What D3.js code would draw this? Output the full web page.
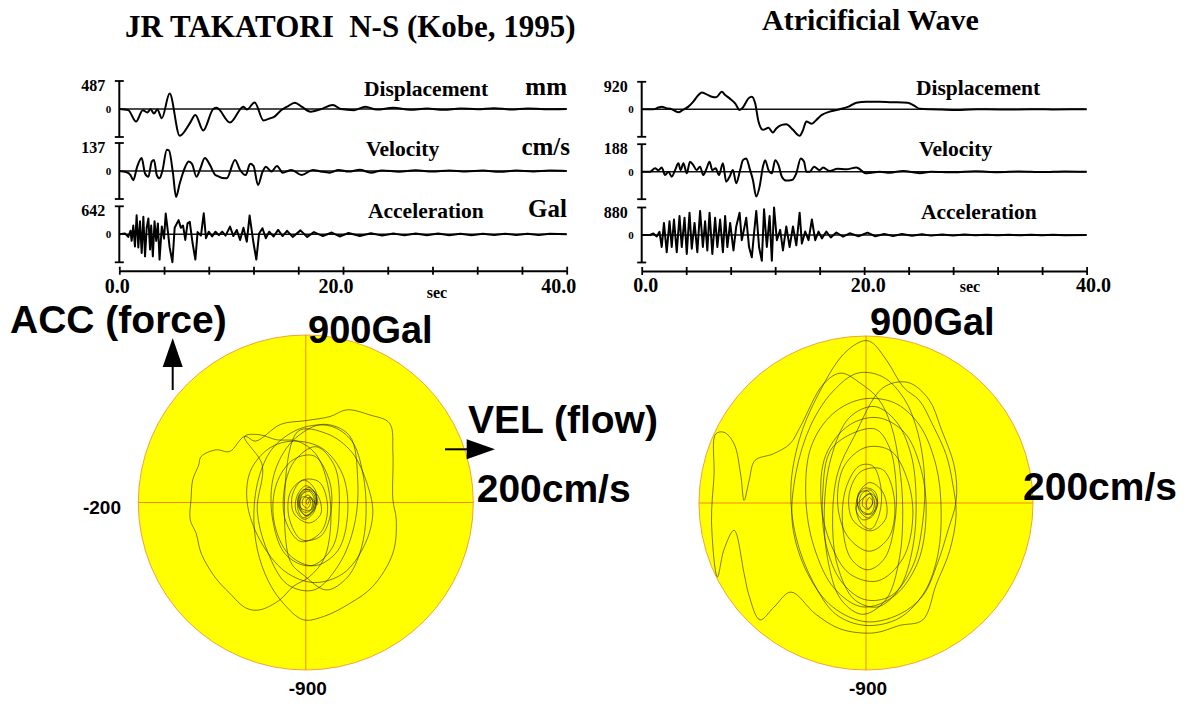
<!DOCTYPE html>
<html>
<head>
  <meta charset="utf-8">
  <title>JR Takatori vs Artificial Wave</title>
  <style>
    html, body { margin: 0; padding: 0; background: #fff; }
    svg { display: block; }
    .serif { font-family: "Liberation Serif", "Times New Roman", serif; font-weight: bold; }
    .sans { font-family: "Liberation Sans", Arial, sans-serif; font-weight: bold; }
  </style>
  <script src="https://d3js.org/d3.v7.min.js"></script>
</head>
<body>
<script>
  // ---- data: [time s, value] turning points ----
  var rowNames = ["Displacement", "Velocity", "Acceleration"];
  var units = ["mm", "cm/s", "Gal"];
  var kobePeaks = [487, 137, 642];
  var artPeaks = [920, 188, 880];
  var timeLabels = ["0.0", "20.0", "40.0"];
  var timeLabelAt = [0, 20, 40];

  var kobeDisp = [[0,0],[0.8,-20],[1.5,-218],[2.1,-20],[2.5,-60],[2.8,-5],[3.1,-80],[3.4,-10],[3.8,-160],[4.5,269],[5.4,-464],[6.3,-250],[6.8,-103],[7.5,-372],[8.4,0],[8.7,20],[9.9,-235],[11.1,40],[11.4,-10],[12.1,115],[12.9,-200],[13.5,-160],[13.8,-143],[14.5,-17],[15.0,40],[15.7,109],[16.3,40],[17.1,-46],[18,-5],[19.1,69],[19.8,0],[21,-20],[22,40],[23,-10],[24.5,20],[26,-15],[27.5,10],[29,-15],[30.5,10],[32,-5],[33.5,15],[35,-10],[36.5,10],[38,-5],[40,0]];
  var kobeVel = [[0,0],[0.6,-5],[1.0,-20],[1.25,-45],[1.6,21],[2.0,63],[2.3,-12],[2.6,-28],[2.9,46],[3.1,54],[3.35,-20],[3.6,-36],[3.85,0],[4.25,104],[4.45,100],[4.8,-12],[5.07,-127],[5.4,-61],[5.9,21],[6.2,46],[6.5,35],[6.9,-28],[7.2,5],[7.65,63],[8.1,30],[8.6,-20],[9.6,-36],[10.35,54],[10.8,5],[11.3,-20],[11.7,35],[12.0,25],[12.4,-69],[12.8,-5],[13.1,21],[13.6,-3],[14.1,25],[14.6,-8],[15.4,5],[16.3,-20],[17.3,5],[18.0,-2],[18.8,-8],[19.6,5],[20.5,-3],[21.5,6],[22.5,-8],[23.5,3],[25,-4],[26.5,4],[28,-3],[29.5,3],[31,-2],[32.5,2],[34,-4],[35.5,2],[37,-2],[38.5,2],[40,0]];
  var kobeAcc = [[0,0],[0.5,20],[0.8,-60],[1.0,80],[1.1,-150],[1.25,200],[1.4,-280],[1.55,438],[1.7,-300],[1.85,300],[2.0,-430],[2.15,400],[2.3,-506],[2.45,150],[2.6,362],[2.75,-350],[2.85,200],[3.0,-506],[3.15,300],[3.3,-150],[3.45,250],[3.6,-580],[3.8,180],[4.0,-100],[4.15,475],[4.35,50],[4.5,-300],[4.75,-640],[4.95,150],[5.3,325],[5.5,150],[5.7,200],[5.9,-130],[6.1,250],[6.3,287],[6.55,-200],[6.8,-580],[7.0,50],[7.3,-30],[7.55,480],[7.75,-90],[8.0,60],[8.3,-50],[8.6,60],[8.9,-20],[9.2,60],[9.5,-30],[9.9,175],[10.2,-40],[10.5,100],[10.8,-130],[11.1,150],[11.4,-170],[11.65,430],[12.0,-200],[12.25,-580],[12.5,20],[12.8,140],[13.1,-90],[13.4,60],[13.8,-50],[14.2,100],[14.6,-40],[15.0,80],[15.5,-60],[16.2,90],[16.8,-60],[17.4,50],[18.2,-40],[19.0,40],[19.7,-50],[20.5,30],[21.5,-40],[22.5,25],[23.5,-30],[24.5,20],[25.5,-25],[26.5,20],[27.5,-20],[28.5,20],[29.5,-20],[30.5,15],[31.5,-20],[32.5,15],[33.5,-15],[34.5,15],[35.5,-15],[36.5,15],[37.5,-15],[38.5,10],[40,0]];

  var artDisp = [[0,0],[1.05,0],[1.5,60],[1.8,89],[2.2,40],[2.6,20],[3.3,-100],[3.7,-20],[4.2,89],[4.64,255],[5.1,476],[5.4,565],[5.84,500],[6.3,421],[6.7,399],[7.2,587],[7.5,480],[7.9,366],[8.4,200],[8.8,-22],[9.1,60],[9.6,366],[9.9,421],[10.2,200],[10.5,-410],[10.9,-687],[11.4,-620],[11.8,-776],[12.1,-640],[12.6,-520],[13.0,-500],[13.6,-687],[14.2,-886],[14.5,-700],[14.8,-410],[15.3,-480],[15.7,-354],[16.2,-188],[16.9,-78],[17.8,0],[18.6,89],[19.3,222],[20.2,255],[21.4,255],[22.3,240],[23.9,220],[24.5,120],[25,20],[26,0],[27,-10],[28.4,-20],[29.5,-5],[31,0],[33,-5],[35,0],[37,-3],[40,0]];
  var artVel = [[0,0],[0.75,0],[1.2,23],[1.5,10],[1.8,29],[2.1,-23],[2.4,0],[2.7,-34],[3.0,11],[3.3,57],[3.5,11],[3.75,57],[4.05,-11],[4.34,68],[4.64,45],[4.94,11],[5.24,34],[5.54,-23],[5.84,23],[6.1,68],[6.35,11],[6.65,23],[6.95,-23],[7.3,57],[7.6,-68],[7.9,-34],[8.2,11],[8.5,-79],[8.85,11],[9.1,79],[9.4,91],[9.7,23],[10.0,-57],[10.3,-170],[10.6,-102],[10.9,34],[11.1,79],[11.4,11],[11.7,-11],[12.0,79],[12.3,45],[12.6,-34],[13.0,-61],[13.5,-57],[13.9,-11],[14.3,91],[14.6,68],[14.8,0],[15.1,0],[15.5,34],[16.0,11],[16.3,29],[16.9,4],[17.6,20],[18.4,16],[19.3,29],[20.2,-11],[21.4,0],[22.3,-7],[23.5,5],[25,-10],[26,0],[28,-4],[30,3],[32,-3],[34,2],[36,-2],[38,2],[40,0]];
  var artAcc = [[0,0],[0.75,0],[1.05,50],[1.35,-50],[1.6,100],[1.8,-385],[2.0,385],[2.25,-550],[2.5,440],[2.7,-385],[2.9,495],[3.15,-550],[3.4,605],[3.6,-385],[3.85,550],[4.05,-605],[4.3,715],[4.5,-440],[4.75,385],[5.0,-550],[5.25,770],[5.5,-385],[5.7,440],[5.9,-495],[6.1,715],[6.35,-605],[6.6,550],[6.8,-385],[7.05,495],[7.3,-550],[7.5,605],[7.7,-385],[7.95,385],[8.25,-495],[8.5,275],[8.8,715],[9.0,-165],[9.25,275],[9.4,550],[9.65,-385],[9.9,-715],[10.1,55],[10.3,770],[10.55,-385],[10.8,-825],[11.0,825],[11.25,-385],[11.5,605],[11.7,-825],[11.9,880],[12.15,-165],[12.45,165],[12.7,-495],[13.0,275],[13.3,-385],[13.6,275],[13.9,-330],[14.2,715],[14.4,-275],[14.7,110],[15.0,-165],[15.3,495],[15.6,-165],[15.9,110],[16.2,-110],[16.6,110],[17.0,-80],[17.5,80],[18.1,-55],[18.7,55],[19.5,-40],[20.3,75],[21.0,-40],[21.8,30],[22.6,-30],[23.4,30],[24.3,-25],[25.2,25],[26,-20],[27,15],[28,-15],[29,15],[30,-10],[31,10],[32,-10],[33,10],[34,-8],[35,8],[36,-8],[37,8],[38,-5],[40,0]];

  // orbit: [velocity cm/s, acceleration Gal]
  var kobeOrbit = [[0,0],[3,25],[6,5],[2,-30],[-4,-10],[-3,20],[3,40],[8,10],[5,-45],[-3,-50],[-7,0],[-4,45],[4,60],[10,20],[8,-40],[0,-70],[-8,-30],[-9,30],[-2,70],[8,55],[12,0],[6,-60],[-4,-80],[-10,-20],[-6,50],[4,80],[12,40],[10,-50],[-2,-90],[-12,-40],[-10,40],[0,90],[10,60],[14,-10],
    [4,30],[10,10],[6,-40],[-6,-30],[-8,20],[2,70],[14,40],[18,-60],[4,-110],[-14,-60],[-16,40],[-4,120],[16,110],[26,-20],[18,-160],[-6,-210],[-24,-100],[-26,60],
    [-14,220],[12,300],[34,200],[40,-20],[32,-240],[6,-340],[-24,-280],[-40,-80],[-38,150],
    [-16,330],[20,420],[52,360],[62,120],[58,-120],[40,-330],[10,-470],[-22,-440],[-46,-260],[-58,-40],[-52,200],
    [-73,355],[-55,364],[-35,337],[-10,330],[12,260],[26,100],[30,-100],[22,-300],[4,-400],[-15,-451],[-31,-523],[-55,-577],[-71,-568],[-91,-487],[-109,-398],[-125,-272],[-131,-165],[-138,-93],[-137,20],[-135,122],[-128,200],[-125,247],[-107,283],[-91,274],[-73,355],
    [-60,330],[-30,420],[0,440],[29,462],[49,498],[76,471],[100,426],[104,265],[104,14],[108,-93],[104,-272],[80,-451],[53,-541],[21,-613],[-3,-630],[-27,-541],[-45,-420],[-58,-250],[-62,-50],[-55,150],[-38,300],
    [-5,400],[30,410],[55,330],[68,160],[72,-60],[66,-250],[50,-400],[25,-470],[0,-400],[-20,-300],
    [-10,380],[25,370],[55,270],[74,90],[80,-60],[70,-230],[45,-380],[10,-430],[-25,-370],[-55,-200],[-70,0],[-66,170],[-44,290],
    [-15,330],[20,290],[44,150],[50,-60],[38,-260],[10,-340],[-20,-280],[-38,-100],[-35,100],[-15,230],[10,250],[28,120],[30,-50],[18,-180],[-5,-200],[-20,-80],[-18,60],[-2,120],[12,60],[10,-40],[0,-70],[-8,-20],[-4,30],[4,20],[2,-10],[0,0]];
  var artOrbit = [[0,0],[4,30],[8,5],[3,-35],[-4,-15],[-3,25],[4,50],[10,15],[7,-50],[-2,-60],[-8,-5],[-5,50],[5,70],[12,25],[10,-45],[2,-80],[-8,-40],[-10,30],[-2,80],[10,65],[14,5],[8,-70],[-4,-90],[-12,-25],
    [6,50],[14,0],[6,-60],[-8,-30],[-10,40],[4,110],[20,60],[24,-80],[6,-150],[-16,-90],[-20,50],[-6,170],[20,180],[34,20],[28,-180],[4,-260],[-22,-180],[-34,0],[-26,200],
    [0,300],[30,280],[50,120],[56,-80],[44,-300],[14,-420],[-20,-380],[-44,-200],[-54,20],[-48,260],[-20,420],
    [14,460],[46,380],[66,180],[72,-60],[62,-320],[34,-500],[-4,-560],[-38,-460],[-62,-240],[-72,20],[-66,300],[-40,480],
    [-4,560],[34,540],[64,420],[84,200],[90,-40],[86,-280],[70,-480],[40,-620],[0,-660],[-36,-600],[-64,-420],[-84,-180],[-90,80],[-80,340],[-60,560],
    [-27,802],[-3,874],[7,865],[25,767],[45,623],[64,552],[80,420],[96,260],[104,100],[108,-60],[100,-260],[84,-440],[68,-630],[40,-660],[10,-700],[-30,-680],[-60,-600],[-90,-480],[-110,-560],[-127,-630],[-140,-500],[-146,-380],[-158,-147],[-170,-250],[-178,-398],[-185,-100],[-182,150],[-180,372],[-170,381],[-158,319],[-150,150],[-146,14],[-140,120],[-133,229],[-111,265],[-91,319],[-79,408],[-51,641],[-30,700],[-5,640],[15,560],[30,420],[40,200],
    [44,-40],[40,-300],[24,-520],[-4,-600],[-30,-520],[-46,-300],[-50,-40],[-42,240],[-20,460],[10,520],[36,440],[54,260],[60,20],[56,-240],[40,-460],[14,-560],[-14,-520],[-34,-340],[-40,-100],[-34,160],[-14,360],
    [20,620],[50,650],[75,560],[90,400],[106,193],[108,14],[98,-150],[86,-320],[68,-500],[40,-600],[0,-640],[-40,-560],[-70,-380],[-88,-120],[-84,160],[-66,420],[-40,600],[-10,700],[20,680],[46,560],[62,380],[70,150],[68,-100],[56,-340],[30,-500],[-2,-520],[-30,-420],[-48,-220],[-52,40],[-40,300],
    [10,400],[28,300],[36,100],[34,-120],[22,-300],[2,-360],[-18,-300],[-28,-120],[-24,80],[-8,200],[8,200],[18,80],[16,-60],[6,-140],[-6,-110],[-12,-20],[-6,60],[4,60],[8,0],[2,-30],[0,0]];

  var W = 1191, H = 707;
  var svg = d3.select("body").append("svg").attr("width", W).attr("height", H);

  // ---- time history panels ----
  var panels = [
    { title: "JR TAKATORI\u00a0 N-S (Kobe, 1995)", tx: 125, ty: 36.5, tsize: 31, x0: 119.3, x1: 566.7, zeros: [109, 171, 234.3], half: 28, axisY: 270.7,
      peaks: kobePeaks, series: [kobeDisp, kobeVel, kobeAcc], showUnits: true,
      labelX: [364, 366, 368], labelY: [96, 156, 218], labOff: [-2, -7, -8], labBase: 293, secX: 437, secY: 298 },
    { title: "Atricificial Wave", tx: 762, ty: 29.5, tsize: 30, x0: 641.7, x1: 1086.6, zeros: [109.3, 171.7, 235], half: 27.5, axisY: 271,
      peaks: artPeaks, series: [artDisp, artVel, artAcc], showUnits: false,
      labelX: [916, 919, 921], labelY: [95, 156, 219], labOff: [4, 4, 7], labBase: 292, secX: 970, secY: 292 }
  ];

  panels.forEach(function (p) {
    var g = svg.append("g");
    g.append("text").attr("class", "serif").attr("x", p.tx).attr("y", p.ty)
      .style("font-size", p.tsize + "px").text(p.title);

    var x = d3.scaleLinear().domain([0, 40]).range([p.x0, p.x1]);

    p.series.forEach(function (data, i) {
      var z = p.zeros[i];
      var y = d3.scaleLinear().domain([-p.peaks[i], p.peaks[i]]).range([z + p.half, z - p.half]);

      // vertical axis segment with caps
      g.append("line").attr("x1", p.x0).attr("x2", p.x0).attr("y1", y(p.peaks[i])).attr("y2", y(-p.peaks[i]))
        .attr("stroke", "#000").attr("stroke-width", 2);
      [p.peaks[i], -p.peaks[i]].forEach(function (v) {
        g.append("line").attr("x1", p.x0 - 4.5).attr("x2", p.x0 + 4.5).attr("y1", y(v)).attr("y2", y(v))
          .attr("stroke", "#000").attr("stroke-width", 1.8);
      });
      g.append("text").attr("class", "serif").attr("x", p.x0 - 14).attr("y", y(p.peaks[i]) + 10)
        .attr("text-anchor", "end").style("font-size", "16px").text(p.peaks[i]);
      g.append("text").attr("class", "serif").attr("x", p.x0 - 8).attr("y", y(0) + 4)
        .attr("text-anchor", "end").style("font-size", "11px").text("0");

      // zero line
      g.append("line").attr("x1", p.x0).attr("x2", p.x1).attr("y1", y(0)).attr("y2", y(0))
        .attr("stroke", "#111").attr("stroke-width", 1.6);

      var line = d3.line().x(function (d) { return x(d[0]); }).y(function (d) { return y(d[1]); })
        .curve(i === 2 ? d3.curveLinear : d3.curveMonotoneX);
      g.append("path").datum(data).attr("d", line).attr("fill", "none")
        .attr("stroke", "#000").attr("stroke-width", 2).attr("stroke-linejoin", "round");

      g.append("text").attr("class", "serif").attr("x", p.labelX[i]).attr("y", p.labelY[i])
        .style("font-size", "21.5px").text(rowNames[i]);
      if (p.showUnits) {
        g.append("text").attr("class", "serif").attr("x", i === 1 ? 570 : 567).attr("y", p.labelY[i] - 1)
          .attr("text-anchor", "end").style("font-size", "25px").text(units[i]);
      }
    });

    // time axis, ticks both sides
    var ticks = d3.range(0, 41, 4);
    var down = d3.axisBottom(x).tickValues(ticks).tickSize(4).tickSizeOuter(0).tickFormat("");
    var up = d3.axisTop(x).tickValues(ticks).tickSize(4).tickSizeOuter(0).tickFormat("");
    var ax = g.append("g").attr("transform", "translate(0," + p.axisY + ")").call(down);
    var ax2 = g.append("g").attr("transform", "translate(0," + p.axisY + ")").call(up);
    ax2.select(".domain").remove();
    [ax, ax2].forEach(function (a) {
      a.selectAll("line").attr("stroke", "#000").attr("stroke-width", 1.8);
      a.select(".domain").attr("stroke", "#000").attr("stroke-width", 2);
    });
    timeLabelAt.forEach(function (t, k) {
      g.append("text").attr("class", "serif").attr("x", x(t) + p.labOff[k]).attr("y", p.labBase)
        .attr("text-anchor", "middle").style("font-size", "20px").text(timeLabels[k]);
    });
    g.append("text").attr("class", "serif").attr("x", p.secX).attr("y", p.secY)
      .attr("text-anchor", "middle").style("font-size", "16px").text("sec");
  });

  // ---- orbit circles: velocity (x) vs acceleration (y) ----
  var orbits = [
    { cx: 305.8, cy: 502.5, r: 167.5, data: kobeOrbit, galX: 308, galY: 342.7, cmX: 476.7, cmY: 501.7, id: "clipK" },
    { cx: 866, cy: 503, r: 167, data: artOrbit, galX: 870, galY: 335, cmX: 1023, cmY: 500, id: "clipA" }
  ];
  var defs = svg.append("defs");

  orbits.forEach(function (o) {
    var vx = d3.scaleLinear().domain([-200, 200]).range([o.cx - o.r, o.cx + o.r]);
    var ay = d3.scaleLinear().domain([-900, 900]).range([o.cy + o.r, o.cy - o.r]);
    defs.append("clipPath").attr("id", o.id).append("circle")
      .attr("cx", vx(0)).attr("cy", ay(0)).attr("r", o.r);

    svg.append("circle").attr("cx", vx(0)).attr("cy", ay(0)).attr("r", o.r)
      .attr("fill", "#ffff00").attr("stroke", "#f2a23a").attr("stroke-width", 1);
    svg.append("line").attr("x1", vx(-200)).attr("x2", vx(200)).attr("y1", ay(0)).attr("y2", ay(0))
      .attr("stroke", "#ee8c10").attr("stroke-width", 1);
    svg.append("line").attr("x1", vx(0)).attr("x2", vx(0)).attr("y1", ay(900)).attr("y2", ay(-900))
      .attr("stroke", "#ee8c10").attr("stroke-width", 1);

    var orbitLine = d3.line().x(function (d) { return vx(d[0]); }).y(function (d) { return ay(d[1]); })
      .curve(d3.curveCatmullRom.alpha(0.5));
    svg.append("path").datum(o.data).attr("d", orbitLine).attr("clip-path", "url(#" + o.id + ")")
      .attr("fill", "none").attr("stroke", "#1a1a00").attr("stroke-opacity", 0.8).attr("stroke-width", 0.7);

    svg.append("text").attr("class", "sans").attr("x", o.galX).attr("y", o.galY)
      .style("font-size", "38px").text("900Gal");
    svg.append("text").attr("class", "sans").attr("x", o.cmX).attr("y", o.cmY)
      .style("font-size", "39px").text("200cm/s");
    svg.append("text").attr("class", "sans").attr("x", vx(0) + 2).attr("y", 695)
      .attr("text-anchor", "middle").style("font-size", "19px").text("-900");
  });

  svg.append("text").attr("class", "sans").attr("x", 121).attr("y", 514)
    .attr("text-anchor", "end").style("font-size", "19px").text("-200");

  // direction arrows and axis names
  svg.append("text").attr("class", "sans").attr("x", 10).attr("y", 333)
    .style("font-size", "39px").text("ACC (force)");
  svg.append("line").attr("x1", 172.7).attr("x2", 172.7).attr("y1", 390).attr("y2", 362)
    .attr("stroke", "#000").attr("stroke-width", 2);
  svg.append("path").attr("d", "M172.7,338 L182.7,367 L162.7,367 Z").attr("fill", "#000");

  svg.append("text").attr("class", "sans").attr("x", 468).attr("y", 432.7)
    .style("font-size", "39px").text("VEL (flow)");
  svg.append("line").attr("x1", 445).attr("x2", 470).attr("y1", 449.3).attr("y2", 449.3)
    .attr("stroke", "#000").attr("stroke-width", 2);
  svg.append("path").attr("d", "M495,449.3 L466.7,439.3 L466.7,459.3 Z").attr("fill", "#000");
</script>
</body>
</html>
